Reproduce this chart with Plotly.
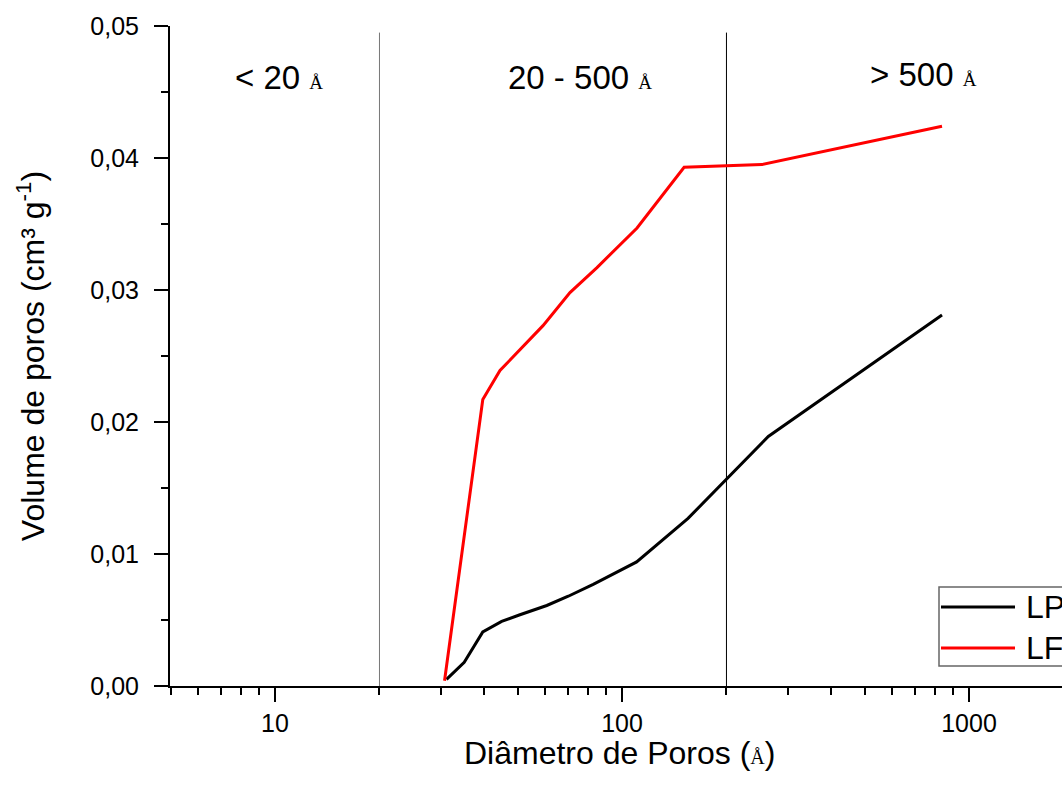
import math
import plotly.graph_objects as go

# ---- data ----
lp_diam = [31.2, 35.1, 39.7, 45.0, 50.8, 60.7, 70.0, 82.6, 110.2, 155.0, 264.0, 836.0]
lp_vol = [0.0005, 0.0018, 0.0041, 0.0049, 0.0054, 0.0061, 0.0068, 0.0077, 0.0094, 0.0127, 0.0189, 0.0281]

lf_diam = [30.8, 39.7, 44.5, 50.8, 59.2, 70.8, 84.7, 110.5, 151.0, 253.0, 836.0]
lf_vol = [0.0004, 0.0217, 0.0239, 0.0255, 0.0273, 0.0298, 0.0317, 0.0347, 0.0393, 0.0395, 0.0424]

series_names = ["LP", "LF"]
region_bounds = [20, 200]
region_labels = ["< 20", "20 - 500", "> 500"]
x_tick_vals = [10, 100, 1000]
x_tick_text = ["10", "100", "1000"]
y_tick_vals = [0.0, 0.01, 0.02, 0.03, 0.04, 0.05]

W, H = 1062, 787
ML, MR, MT, MB = 170, 0, 26, 101
PW, PH = W - ML - MR, H - MT - MB


def px_x(p):
    return (p - ML) / PW


def px_y(p):
    return (H - MB - p) / PH


FONT = "Arial, 'Liberation Sans', sans-serif"
SERIF = "'Liberation Serif', 'Times New Roman', serif"


def ang(size=19):
    return f"<span style=\"font-family:{SERIF}; font-size:{size}px\">Å</span>"


fig = go.Figure()
fig.add_trace(go.Scatter(x=lp_diam, y=lp_vol, mode="lines", name=series_names[0],
                         line=dict(color="black", width=3), showlegend=False))
fig.add_trace(go.Scatter(x=lf_diam, y=lf_vol, mode="lines", name=series_names[1],
                         line=dict(color="#ff0000", width=3), showlegend=False))

# region separators
for b, col in zip(region_bounds, ["#777777", "#000000"]):
    fig.add_shape(type="line", xref="x", yref="y", x0=b, x1=b, y0=0, y1=0.0495,
                  line=dict(color=col, width=1), layer="below")

# region labels
label_pos = [(279, 78), (580, 78), (923, 74)]
for (lx, ly), txt in zip(label_pos, region_labels):
    fig.add_annotation(xref="paper", yref="paper", x=px_x(lx), y=px_y(ly),
                       text=txt + " " + ang(19), showarrow=False,
                       font=dict(family=FONT, size=33, color="black"),
                       xanchor="center", yanchor="middle")

# x-axis title (placed as in the reference, close under the tick labels)
fig.add_annotation(xref="paper", yref="paper", x=px_x(619), y=px_y(753),
                   text="Diâmetro de Poros (" + ang(20) + ")", showarrow=False,
                   xanchor="center", yanchor="middle",
                   font=dict(family=FONT, size=32, color="black"))

# custom legend (box runs off the right edge as in the reference)
fig.add_shape(type="rect", xref="paper", yref="paper",
              x0=px_x(939), x1=px_x(1100), y0=px_y(666), y1=px_y(587),
              line=dict(color="#666666", width=1.5), fillcolor="white", layer="above")
for name, col, yy in zip(series_names, ["black", "#ff0000"], [607, 648]):
    fig.add_shape(type="line", xref="paper", yref="paper",
                  x0=px_x(941), x1=px_x(1015), y0=px_y(yy), y1=px_y(yy),
                  line=dict(color=col, width=3), layer="above")
    fig.add_annotation(xref="paper", yref="paper", x=px_x(1024), y=px_y(yy),
                       text=name, showarrow=False, xanchor="left", yanchor="middle",
                       font=dict(family=FONT, size=32, color="black"))

minor_x = [m * d for d in (1, 10, 100, 1000) for m in range(2, 10) if 5 <= m * d <= 2000 and m * d not in x_tick_vals]

fig.update_xaxes(
    type="log", range=[math.log10(5) - 0.0016, 3.268],
    tickvals=x_tick_vals, ticktext=x_tick_text,
    ticks="outside", ticklen=14, tickwidth=2, tickcolor="black",
    showline=True, linewidth=2, linecolor="black", mirror=False,
    showgrid=False, zeroline=False,
    minor=dict(tickvals=minor_x, ticks="outside", ticklen=7, tickwidth=2,
               tickcolor="black", showgrid=False),
    tickfont=dict(family=FONT, size=25, color="black"),
)
fig.update_yaxes(
    range=[0, 0.05], tickvals=y_tick_vals, tickformat=".2f",
    ticks="outside", ticklen=14, tickwidth=2, tickcolor="black",
    showline=True, linewidth=2, linecolor="black", mirror=False,
    showgrid=False, zeroline=False,
    minor=dict(tickvals=[0.005, 0.015, 0.025, 0.035, 0.045], ticks="outside",
               ticklen=7, tickwidth=2, tickcolor="black", showgrid=False),
    tickfont=dict(family=FONT, size=25, color="black"),
    ticklabelstandoff=10,
    title=dict(text="Volume de poros (cm³ g<sup>-1</sup>)",
               font=dict(family=FONT, size=32, color="black"), standoff=36),
)
fig.update_layout(
    width=W, height=H,
    margin=dict(l=ML, r=MR, t=MT, b=MB, autoexpand=False),
    paper_bgcolor="white", plot_bgcolor="white",
    separators=",.",
    showlegend=False,
    font=dict(family=FONT, color="black"),
)
fig.write_html("out.html")
